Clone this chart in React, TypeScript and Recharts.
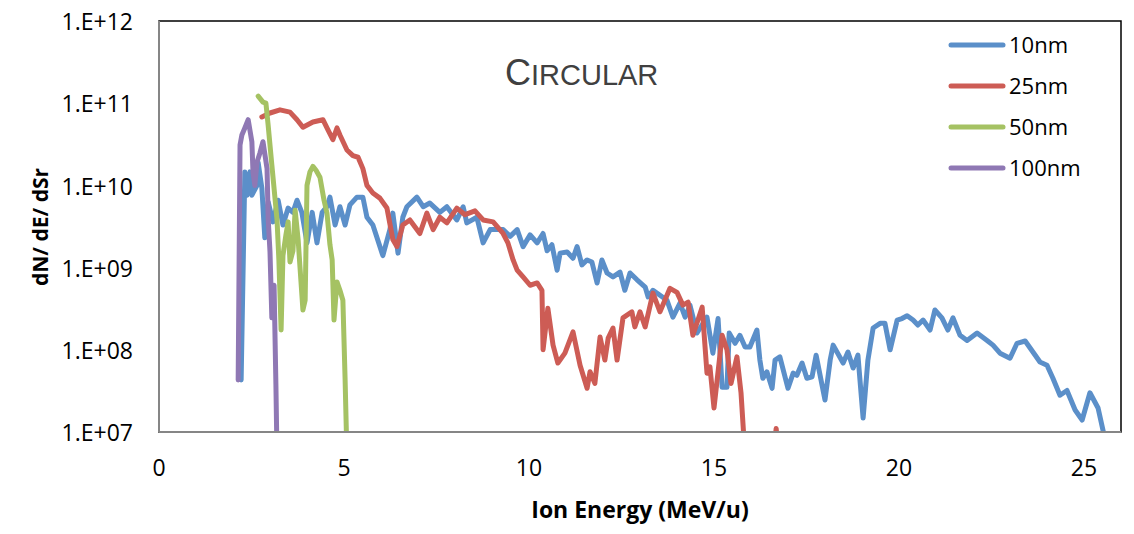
import { Legend, Line, LineChart, ReferenceArea, XAxis, YAxis } from "recharts";

const FONT = "'Open Sans', sans-serif";
const AXIS_GRAY = "#868686";

const X_TICKS = [0, 5, 10, 15, 20, 25];
const Y_TICKS = [1e7, 1e8, 1e9, 1e10, 1e11, 1e12];
const Y_TICK_LABELS = ["1.E+07", "1.E+08", "1.E+09", "1.E+10", "1.E+11", "1.E+12"];

// [ion energy MeV/u, dN/dE/dSr]
const SERIES_10NM: [number, number][] = [
  [2.22, 4.3e7], [2.32, 1.46e10], [2.38, 7.6e9], [2.46, 1.46e10], [2.51, 7.6e9], [2.65, 1.0e10],
  [2.68, 1.9e10], [2.78, 9.3e9], [2.86, 2.3e9], [2.95, 6.3e9], [3.08, 3.6e9], [3.22, 6.6e9],
  [3.35, 3.3e9], [3.49, 5.3e9], [3.62, 4.7e9], [3.73, 6.6e9], [3.86, 4.7e9], [4.0, 2.0e9],
  [4.14, 4.7e9], [4.27, 2.0e9], [4.41, 4.7e9], [4.54, 5.5e9], [4.62, 7.2e9], [4.76, 3.3e9],
  [4.89, 5.5e9], [5.03, 3.3e9], [5.16, 5.8e9], [5.35, 7.2e9], [5.51, 7.2e9], [5.62, 4.1e9],
  [5.78, 3.3e9], [6.05, 1.4e9], [6.24, 2.9e9], [6.32, 4.6e9], [6.46, 1.5e9], [6.59, 4.1e9],
  [6.7, 5.5e9], [6.97, 7.2e9], [7.14, 5.5e9], [7.32, 6.1e9], [7.59, 4.7e9], [7.78, 5.5e9],
  [8.05, 3.8e9], [8.22, 5.5e9], [8.32, 3.5e9], [8.59, 4.1e9], [8.76, 2.0e9], [8.95, 2.9e9],
  [9.3, 2.9e9], [9.49, 2.4e9], [9.68, 2.9e9], [9.84, 1.8e9], [10.03, 2.5e9], [10.22, 2.0e9],
  [10.38, 2.6e9], [10.49, 1.6e9], [10.62, 1.9e9], [10.76, 9.3e8], [10.84, 1.5e9], [11.03, 1.55e9],
  [11.19, 1.3e9], [11.3, 1.8e9], [11.43, 1.08e9], [11.57, 1.24e9], [11.7, 1.17e9], [11.84, 6.5e8],
  [11.97, 1.24e9], [12.11, 8.6e8], [12.27, 7.7e8], [12.46, 8.8e8], [12.59, 5.3e8], [12.73, 8.6e8],
  [12.92, 7.1e8], [13.14, 5.8e8], [13.22, 4.4e8], [13.35, 5.3e8], [13.54, 4.6e8], [13.73, 4.0e8],
  [13.89, 2.5e8], [14.08, 3.7e8], [14.22, 2.5e8], [14.35, 3.5e8], [14.54, 1.6e8], [14.81, 2.5e8],
  [14.97, 9.1e7], [15.11, 2.4e8], [15.22, 3.5e7], [15.35, 3.5e7], [15.41, 1.6e8], [15.57, 1.2e8],
  [15.7, 1.5e8], [15.84, 1.08e8], [15.97, 1.08e8], [16.16, 1.74e8], [16.24, 7.5e7], [16.32, 4.5e7],
  [16.43, 5.4e7], [16.57, 3.4e7], [16.65, 7.5e7], [16.78, 8.2e7], [17.0, 3.4e7], [17.14, 5.2e7],
  [17.24, 4.9e7], [17.38, 6.9e7], [17.51, 4.5e7], [17.65, 4.7e7], [17.76, 8.6e7], [18.0, 2.45e7],
  [18.14, 7.5e7], [18.22, 1.14e8], [18.49, 6.9e7], [18.62, 9.4e7], [18.76, 6.0e7], [18.89, 8.6e7],
  [19.03, 1.48e7], [19.16, 7.5e7], [19.3, 1.84e8], [19.49, 2.1e8], [19.62, 2.1e8], [19.76, 1.0e8],
  [19.95, 2.3e8], [20.08, 2.4e8], [20.22, 2.6e8], [20.38, 2.3e8], [20.51, 2.0e8], [20.65, 2.3e8],
  [20.84, 1.74e8], [20.97, 3.05e8], [21.16, 2.45e8], [21.32, 1.74e8], [21.46, 2.45e8], [21.65, 1.5e8],
  [21.84, 1.3e8], [22.11, 1.6e8], [22.38, 1.3e8], [22.54, 1.14e8], [22.73, 9.1e7], [23.0, 7.9e7],
  [23.19, 1.2e8], [23.41, 1.28e8], [23.62, 9.4e7], [23.81, 7.1e7], [24.0, 6.5e7], [24.16, 4.5e7],
  [24.35, 2.8e7], [24.54, 3.2e7], [24.76, 1.85e7], [24.95, 1.4e7], [25.16, 3.0e7], [25.38, 1.96e7],
  [25.6, 7e6],
];

const SERIES_25NM: [number, number][] = [
  [2.78, 6.8e10], [3.0, 7.6e10], [3.27, 8.3e10], [3.54, 7.8e10], [3.73, 6.3e10], [3.89, 5.1e10],
  [4.16, 5.9e10], [4.43, 6.3e10], [4.57, 4.7e10], [4.7, 3.6e10], [4.81, 5.0e10], [4.89, 4.1e10],
  [5.08, 2.7e10], [5.24, 2.3e10], [5.38, 2.2e10], [5.51, 1.6e10], [5.62, 1.0e10], [5.78, 8.1e9],
  [5.97, 7.0e9], [6.16, 5.3e9], [6.32, 2.2e9], [6.43, 1.8e9], [6.59, 3.3e9], [6.78, 3.8e9],
  [7.05, 2.6e9], [7.24, 4.6e9], [7.41, 2.9e9], [7.59, 4.1e9], [7.78, 3.5e9], [8.05, 5.3e9],
  [8.27, 4.4e9], [8.54, 4.9e9], [8.76, 3.8e9], [9.03, 3.6e9], [9.3, 2.6e9], [9.43, 2.0e9],
  [9.57, 1.24e9], [9.68, 9.3e8], [9.84, 7.7e8], [10.03, 6.1e8], [10.22, 6.5e8], [10.35, 5.3e8],
  [10.38, 1.0e8], [10.51, 3.2e8], [10.65, 1.14e8], [10.78, 6.9e7], [10.97, 9.1e7], [11.19, 1.65e8],
  [11.38, 6.5e7], [11.57, 3.4e7], [11.65, 5.4e7], [11.78, 3.9e7], [11.92, 1.43e8], [12.05, 7.5e7],
  [12.14, 1.39e8], [12.27, 1.84e8], [12.38, 7.5e7], [12.54, 2.45e8], [12.78, 2.9e8], [12.86, 1.9e8],
  [13.0, 2.9e8], [13.14, 1.9e8], [13.35, 4.9e8], [13.54, 2.9e8], [13.81, 5.6e8], [14.0, 5.0e8],
  [14.16, 3.5e8], [14.3, 3.8e8], [14.43, 1.5e8], [14.68, 3.3e8], [14.81, 5.2e7], [14.89, 6.2e7],
  [15.0, 1.96e7], [15.22, 1.5e8], [15.35, 1.0e8], [15.46, 3.9e7], [15.62, 8.2e7], [15.73, 3.0e7],
  [15.84, 5e6], [16.6, 5e6], [16.68, 1.1e7], [16.76, 5e6],
];

const SERIES_50NM: [number, number][] = [
  [2.68, 1.22e11], [2.81, 1.03e11], [2.89, 1.0e11], [2.95, 5.4e10], [3.05, 1.77e10], [3.14, 6.6e9],
  [3.19, 3.8e9], [3.24, 1.24e9], [3.3, 1.74e8], [3.35, 1.4e9], [3.43, 2.5e9], [3.49, 3.6e9],
  [3.54, 1.17e9], [3.62, 1.6e9], [3.68, 5.0e9], [3.76, 2.2e9], [3.81, 1.02e9], [3.89, 3.05e8],
  [3.95, 4.0e8], [4.0, 1.0e10], [4.08, 1.46e10], [4.16, 1.7e10], [4.24, 1.54e10], [4.35, 1.26e10],
  [4.46, 6.6e9], [4.54, 4.6e9], [4.62, 1.9e9], [4.68, 1.24e9], [4.73, 2.3e8], [4.81, 6.7e8],
  [4.89, 5.3e8], [4.97, 4.0e8], [5.03, 4.3e7], [5.08, 5e6],
];

const SERIES_100NM: [number, number][] = [
  [2.14, 4.3e7], [2.19, 3.1e10], [2.24, 4.1e10], [2.32, 5.0e10], [2.41, 6.3e10], [2.51, 3.4e10],
  [2.54, 1.46e10], [2.59, 1.0e10], [2.65, 1.93e10], [2.73, 2.5e10], [2.81, 3.4e10], [2.92, 1.6e10],
  [2.95, 4.0e9], [3.0, 1.55e9], [3.05, 2.45e8], [3.11, 6.1e8], [3.16, 3.7e7], [3.19, 5e6],
];

const SERIES = [
  { name: "10nm", color: "#5b8fc9", points: SERIES_10NM },
  { name: "25nm", color: "#cd5c55", points: SERIES_25NM },
  { name: "50nm", color: "#a5c263", points: SERIES_50NM },
  { name: "100nm", color: "#8f78b4", points: SERIES_100NM },
];

const NAMES = SERIES.map((s) => s.name);

function LegendBox({ payload }: any) {
  const items = [...(payload || [])].sort(
    (a: any, b: any) => NAMES.indexOf(a.value) - NAMES.indexOf(b.value)
  );
  return (
    <div style={{ fontFamily: FONT, fontSize: 22, color: "#000" }}>
      {items.map((item: any) => (
        <div key={item.value} style={{ display: "flex", alignItems: "center", height: 41 }}>
          <svg width={60} height={8}>
            <line x1={4} y1={4} x2={56} y2={4} stroke={item.color} strokeWidth={5} strokeLinecap="round" />
          </svg>
          <span style={{ marginLeft: 2, lineHeight: "41px" }}>{item.value}</span>
        </div>
      ))}
    </div>
  );
}

function XTick({ x, y, payload }: any) {
  return (
    <text x={x} y={y} dy="0.71em" textAnchor="middle" fontFamily={FONT} fontSize={23} fill="#000">
      {payload.value}
    </text>
  );
}

function YTick({ x, y, payload }: any) {
  return (
    <text x={x} y={y} dy="0.4em" textAnchor="end" fontFamily={FONT} fontSize={23} fill="#000">
      {Y_TICK_LABELS[Y_TICKS.indexOf(payload.value)] ?? ""}
    </text>
  );
}

export default function App() {
  return (
    <div style={{ position: "relative", width: 1134, height: 534, background: "#fff" }}>
      <style>{"body{margin:0}"}</style>
      <LineChart width={1134} height={534} margin={{ top: 21, right: 13, bottom: 0, left: 0 }}>
        <ReferenceArea x1={0} x2={26} y1={1e7} y2={1e12} fill="none" stroke="#000" strokeWidth={1.5} />
        <XAxis
          type="number"
          dataKey="x"
          domain={[0, 26]}
          ticks={X_TICKS}
          allowDataOverflow
          height={102}
          tickLine={false}
          tickMargin={22}
          axisLine={{ stroke: AXIS_GRAY, strokeWidth: 2 }}
          tick={<XTick />}
        />
        <YAxis
          type="number"
          dataKey="y"
          scale="log"
          domain={[1e7, 1e12]}
          ticks={Y_TICKS}
          allowDataOverflow
          width={159}
          tickLine={false}
          tickMargin={20}
          axisLine={{ stroke: AXIS_GRAY, strokeWidth: 2 }}
          tick={<YTick />}
        />
        <Legend
          layout="horizontal"
          verticalAlign="middle"
          align="center"
          content={<LegendBox />}
          wrapperStyle={{ top: 24, left: 947, width: 180, height: 170 }}
        />
        {SERIES.map((s) => (
          <Line
            key={s.name}
            name={s.name}
            data={s.points.map(([x, y]) => ({ x, y }))}
            dataKey="y"
            stroke={s.color}
            strokeWidth={5}
            strokeLinejoin="round"
            strokeLinecap="round"
            dot={false}
            activeDot={false}
            isAnimationActive={false}
          />
        ))}
      </LineChart>
      <svg
        width={1134}
        height={534}
        style={{ position: "absolute", left: 0, top: 0, pointerEvents: "none" }}
      >
        <text x={505} y={85} fill="#404040" fontFamily="'Liberation Sans', Arial, sans-serif">
          <tspan fontSize={36}>C</tspan>
          <tspan fontSize={29}>IRCULAR</tspan>
        </text>
        <text x={640} y={518} textAnchor="middle" fontFamily={FONT} fontWeight="bold" fontSize={23} fill="#000">
          Ion Energy (MeV/u)
        </text>
        <text
          x={40}
          y={227}
          transform="rotate(-90 40 227)"
          textAnchor="middle"
          dominantBaseline="central"
          fontFamily={FONT}
          fontWeight="bold"
          fontSize={21}
          fill="#000"
        >
          dN/ dE/ dSr
        </text>
      </svg>
    </div>
  );
}
